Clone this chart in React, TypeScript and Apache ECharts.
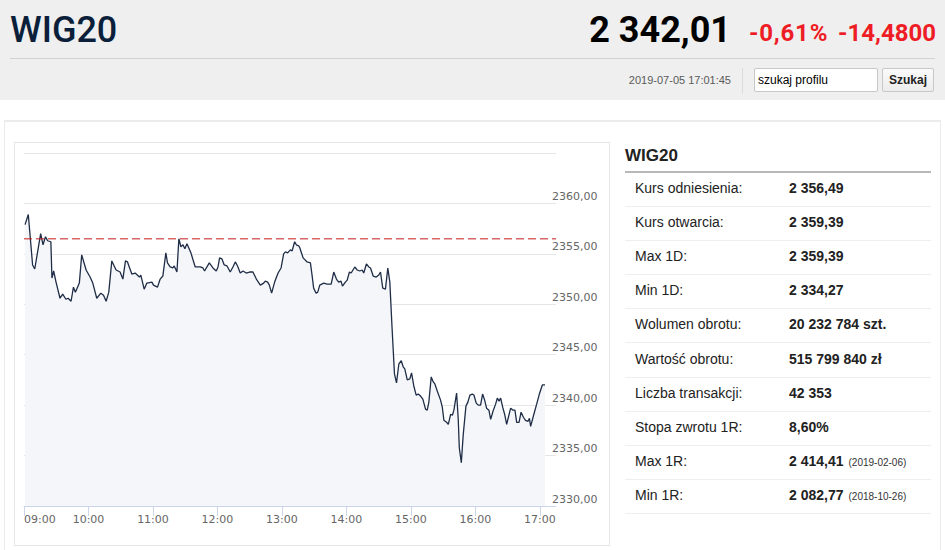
import React, { useEffect, useRef } from "react";
import * as echarts from "echarts";

// ---- data ----
const minutes = [
  1, 4, 8, 10, 15.5, 17.7, 20, 22, 25, 26, 27.6, 29.8, 33.5, 36, 39, 41, 43.8, 46, 47.8, 51.5,
  53.7, 57.8, 61.5, 64, 67.7, 71.5, 74, 76.4, 78.9, 81.7, 85.7, 89.4, 92, 94.4, 96.3, 100.3, 103.4,
  107.4, 108.7, 111.8, 114.3, 119, 120.5, 124.2, 126.7, 129.2, 132, 133.5, 136, 138.5, 139.8, 142.3,
  144.1, 146, 147.9, 149.7, 151.6, 155.3, 159.3, 164, 166.5, 168, 172.4, 175.8, 178.9, 180.5, 182,
  184.2, 186.3, 188.9, 191.9, 194.4, 196.6, 198.7, 201.2, 203.8, 206.8, 209.9, 213, 216.2, 219.9,
  223, 224.5, 226.7, 228.3, 230.4, 233.2, 236.4, 239.2, 241.6, 243.2, 245.3, 247.8, 249.5, 251.8,
  253.4, 255.6, 256.6, 259.7, 263.4, 266.5, 268, 269.5, 271.8, 273.3, 275.2, 278.9, 282, 285.8,
  288.2, 290.7, 292.8, 295, 296.3, 299, 300.7, 302.8, 304.4, 307.8, 310, 312.4, 314.6, 316.1, 318.6,
  320.8, 322.4, 324.9, 327.7, 330.1, 331.7, 333.8, 336.3, 338.5, 340.4, 342.4, 344.7, 346.6, 348.8,
  351, 352.8, 354.3, 356.6, 359, 360.6, 362.7, 364.9, 366.8, 369, 371.1, 373.6, 375.2, 376.7, 378.9,
  380.8, 382.3, 384.5, 387.6, 389.2, 390.7, 393.2, 394.8, 397, 398.6, 400, 402.5, 404.1, 405, 406.9,
  408.7, 411.2, 413, 414.9, 417.1, 418.6, 420.8, 422.6, 424.8, 426.7, 428.6, 430.4, 432.6, 434.2,
  436.7, 438.8, 440.4, 442, 443.5, 445.4, 447.2, 449.1, 450.7, 452.8, 455, 456.8, 458.4, 460.6,
  462.5, 464.7, 466.6, 469, 470.3, 471.4, 473.9, 477, 479.5, 482.3, 484.8,
];
const prices = [
  2357.9, 2358.9, 2353.9, 2353.5, 2357.0, 2355.9, 2356.7, 2356.3, 2356.2, 2352.6, 2353.3, 2352.2,
  2350.6, 2351.0, 2350.5, 2350.6, 2350.3, 2351.7, 2351.2, 2352.1, 2354.9, 2353.4, 2352.7, 2352.1,
  2350.6, 2351.1, 2350.9, 2350.3, 2351.2, 2354.3, 2353.4, 2353.2, 2352.5, 2354.3, 2354.2, 2353.0,
  2353.1, 2352.7, 2352.9, 2351.5, 2352.1, 2352.2, 2351.9, 2351.7, 2352.5, 2352.8, 2355.1, 2354.1,
  2353.7, 2353.6, 2353.8, 2353.2, 2356.5, 2355.7, 2355.9, 2355.5, 2356.0, 2355.1, 2353.7, 2353.7,
  2353.6, 2353.3, 2354.1, 2353.6, 2353.3, 2353.7, 2354.6, 2354.5, 2353.9, 2353.8, 2353.2, 2353.7,
  2354.2, 2353.8, 2353.1, 2353.3, 2353.1, 2353.2, 2353.2, 2352.5, 2351.9, 2352.1, 2352.3, 2352.2,
  2351.9, 2351.1, 2352.2, 2353.1, 2353.6, 2355.0, 2355.2, 2355.1, 2355.4, 2355.3, 2356.2, 2355.9,
  2355.8, 2355.6, 2354.6, 2354.2, 2354.1, 2352.9, 2351.6, 2351.1, 2351.2, 2351.9, 2352.1, 2352.0,
  2352.0, 2353.2, 2352.5, 2352.2, 2352.3, 2351.8, 2352.2, 2352.4, 2353.2, 2353.1, 2353.7, 2353.4,
  2353.3, 2353.4, 2353.1, 2354.0, 2353.7, 2353.6, 2352.8, 2352.7, 2352.9, 2353.2, 2351.6, 2351.5,
  2353.6, 2352.2, 2347.8, 2343.1, 2342.2, 2344.1, 2344.4, 2343.8, 2343.6, 2342.5, 2342.6, 2343.2,
  2341.9, 2341.0, 2341.1, 2340.9, 2340.6, 2339.6, 2339.5, 2340.3, 2342.8, 2342.3, 2342.1, 2341.4,
  2340.5, 2339.8, 2338.5, 2338.3, 2338.1, 2339.1, 2339.0, 2339.5, 2341.2, 2338.5, 2335.8, 2334.3,
  2337.1, 2339.9, 2340.3, 2341.0, 2341.1, 2341.0, 2340.2, 2340.0, 2340.0, 2341.1, 2340.5, 2339.7,
  2339.5, 2338.6, 2339.5, 2340.1, 2340.7, 2340.4, 2340.7, 2339.8, 2339.1, 2338.1, 2338.8, 2339.7,
  2339.5, 2339.5, 2338.3, 2338.3, 2339.3, 2338.8, 2338.5, 2338.4, 2338.7, 2337.9, 2338.9, 2340.1,
  2341.1, 2342.0, 2342.01,
];
const referencePrice = 2356.49;
const xMin = 0;
const xMax = 495;
const hourTicks = [0, 60, 120, 180, 240, 300, 360, 420, 480];
const yMin = 2330;
const yMax = 2365;
const yStep = 5;

const statLabels = [
  "Kurs odniesienia:",
  "Kurs otwarcia:",
  "Max 1D:",
  "Min 1D:",
  "Wolumen obrotu:",
  "Wartość obrotu:",
  "Liczba transakcji:",
  "Stopa zwrotu 1R:",
  "Max 1R:",
  "Min 1R:",
];
const statValues = [
  "2 356,49",
  "2 359,39",
  "2 359,39",
  "2 334,27",
  "20 232 784 szt.",
  "515 799 840 zł",
  "42 353",
  "8,60%",
  "2 414,41",
  "2 082,77",
];
const statDates = ["", "", "", "", "", "", "", "", "(2019-02-06)", "(2018-10-26)"];

const fmtTime = (m: number) => {
  const total = 9 * 60 + m;
  const h = Math.floor(total / 60);
  const mm = Math.round(total % 60);
  return String(h).padStart(2, "0") + ":" + String(mm).padStart(2, "0");
};

function Chart() {
  const ref = useRef<HTMLDivElement>(null);
  useEffect(() => {
    if (!ref.current) return;
    const chart = echarts.init(ref.current, undefined, { renderer: "svg" });
    const data = minutes.map((m, i) => [m, prices[i]]);
    chart.setOption({
      animation: false,
      grid: { left: 9, top: 10, right: 53, bottom: 39 },
      xAxis: {
        type: "value",
        min: xMin,
        max: xMax,
        interval: 60,
        axisLine: { show: true, lineStyle: { color: "#ccd6eb", width: 1 } },
        axisTick: {
          show: true,
          length: 10,
          lineStyle: { color: "#ccd6eb" },
          customValues: hourTicks,
        },
        axisLabel: {
          customValues: hourTicks,
          formatter: (v: number) => fmtTime(v),
          color: "#666666",
          fontSize: 11,
          fontFamily: "DejaVu Sans",
          margin: 8,
          alignMinLabel: "left",
        },
        splitLine: { show: false },
      },
      yAxis: {
        type: "value",
        position: "right",
        min: yMin,
        max: yMax,
        interval: yStep,
        axisLine: { show: false },
        axisTick: { show: false },
        splitLine: { show: true, lineStyle: { color: "#e6e6e6", width: 1 } },
        axisLabel: {
          showMaxLabel: false,
          margin: -4,
          align: "left",
          verticalAlign: "bottom",
          lineHeight: 14,
          color: "#666666",
          fontSize: 11,
          fontFamily: "DejaVu Sans",
          formatter: (v: number) => v.toFixed(2).replace(".", ","),
        },
      },
      series: [
        {
          type: "line",
          data,
          symbol: "none",
          showSymbol: false,
          color: "#1f2d47",
          lineStyle: { color: "#1f2d47", width: 1.3 },
          areaStyle: { color: "#f5f6f9", origin: "start", opacity: 1 },
          z: 2,
        },
        {
          type: "line",
          data: [
            [xMin, referencePrice],
            [xMax, referencePrice],
          ],
          symbol: "none",
          showSymbol: false,
          silent: true,
          color: "#c41a1a",
          lineStyle: { color: "#c41a1a", width: 1, type: [8, 4] },
          z: 3,
        },
      ],
    });
    return () => chart.dispose();
  }, []);
  return <div ref={ref} style={{ width: "100%", height: "100%" }} />;
}

const abs = (s: React.CSSProperties): React.CSSProperties => ({ position: "absolute", ...s });

export default function App() {
  return (
    <div
      style={abs({
        left: 0,
        top: 0,
        width: 945,
        height: 550,
        background: "#ffffff",
        overflow: "hidden",
        fontFamily: "'Liberation Sans', Arial, sans-serif",
      })}
    >
      {/* header */}
      <div style={abs({ left: 0, top: 0, width: 945, height: 100, background: "#efefef" })} />
      <div
        style={abs({
          left: 10,
          top: 10,
          height: 40,
          lineHeight: "40px",
          fontFamily: "Roboto",
          fontWeight: 500,
          fontSize: 36,
          color: "#0b1f3a",
        })}
      >
        WIG20
      </div>
      <div
        style={abs({
          right: 945 - 731,
          top: 10,
          height: 40,
          lineHeight: "40px",
          fontFamily: "Roboto",
          fontWeight: 700,
          fontSize: 36,
          color: "#000000",
          whiteSpace: "nowrap",
        })}
      >
        2 342,01
      </div>
      <div
        style={abs({
          left: 749,
          top: 17,
          height: 32,
          lineHeight: "32px",
          fontFamily: "Roboto",
          fontWeight: 700,
          fontSize: 24,
          letterSpacing: 0.8,
          color: "#ee1c25",
          whiteSpace: "nowrap",
        })}
      >
        -0,61%
      </div>
      <div
        style={abs({
          right: 945 - 936,
          top: 17,
          height: 32,
          lineHeight: "32px",
          fontFamily: "Roboto",
          fontWeight: 700,
          fontSize: 24,
          color: "#ee1c25",
          whiteSpace: "nowrap",
        })}
      >
        -14,4800
      </div>
      <div style={abs({ left: 10, top: 58, width: 925, height: 1, background: "#d2d2d2" })} />
      <div
        style={abs({
          right: 945 - 731,
          top: 72,
          height: 16,
          lineHeight: "16px",
          fontSize: 11,
          color: "#5a5a5a",
          whiteSpace: "nowrap",
        })}
      >
        2019-07-05 17:01:45
      </div>
      <div style={abs({ left: 742, top: 68, width: 1, height: 26, background: "#dcdcdc" })} />
      <div
        style={abs({
          left: 754,
          top: 68,
          width: 124,
          height: 24,
          boxSizing: "border-box",
          border: "1px solid #c8c8c8",
          borderRadius: 2,
          background: "#ffffff",
          fontSize: 12,
          lineHeight: "22px",
          paddingLeft: 3,
          color: "#000",
        })}
      >
        szukaj profilu
      </div>
      <div
        style={abs({
          left: 882,
          top: 68,
          width: 52,
          height: 24,
          boxSizing: "border-box",
          border: "1px solid #c8c8c8",
          borderRadius: 2,
          background: "linear-gradient(#fafafa, #ececec)",
          fontSize: 12,
          fontWeight: 700,
          lineHeight: "22px",
          textAlign: "center",
          color: "#222",
        })}
      >
        Szukaj
      </div>

      {/* content box */}
      <div
        style={abs({
          left: 4,
          top: 120,
          width: 937,
          height: 450,
          boxSizing: "border-box",
          borderTop: "2px solid #ebebeb",
          borderLeft: "1px solid #ebebeb",
          borderRight: "1px solid #ebebeb",
        })}
      />

      {/* chart panel */}
      <div
        style={abs({
          left: 14,
          top: 142,
          width: 596,
          height: 404,
          boxSizing: "border-box",
          border: "1px solid #e6e6e6",
        })}
      >
        <Chart />
      </div>

      {/* stats table */}
      <div
        style={abs({
          left: 625,
          top: 144,
          height: 24,
          lineHeight: "24px",
          fontSize: 17,
          fontWeight: 700,
          color: "#222",
        })}
      >
        WIG20
      </div>
      <div style={abs({ left: 625, top: 171, width: 306, height: 2, background: "#b8b8b8" })} />
      {statLabels.map((label, i) => (
        <div
          key={label}
          style={abs({
            left: 625,
            top: 173 + i * 34.1,
            width: 306,
            height: 34,
            boxSizing: "border-box",
            borderBottom: "1px solid #eeeeee",
            fontSize: 14,
            lineHeight: "31px",
            color: "#222",
          })}
        >
          <span style={abs({ left: 10, top: 0, whiteSpace: "nowrap" })}>{label}</span>
          <span style={abs({ left: 164, top: 0, whiteSpace: "nowrap", fontWeight: 700 })}>
            {statValues[i]}
            {statDates[i] ? (
              <span style={{ fontWeight: 400, fontSize: 10, color: "#333", marginLeft: 5 }}>
                {statDates[i]}
              </span>
            ) : null}
          </span>
        </div>
      ))}
    </div>
  );
}
